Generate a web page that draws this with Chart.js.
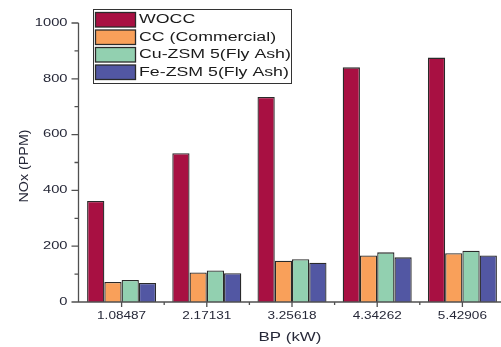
<!DOCTYPE html>
<html>
<head>
<meta charset="utf-8">
<script src="https://cdn.jsdelivr.net/npm/chart.js@4/dist/chart.umd.min.js"></script>
<style>
  html, body { margin: 0; padding: 0; background: #fff; overflow: hidden; }
  #wrap { width: 501px; height: 347px; overflow: hidden; }
  canvas { display: block; }
</style>
</head>
<body>
<div id="wrap"><canvas id="c" width="505" height="347"></canvas></div>
<script>
// Brake power levels (kW)
const categories = ['1.08487', '2.17131', '3.25618', '4.34262', '5.42906'];

// NOx emissions (PPM) per catalyst condition
const wocc = [362, 533, 735, 841, 876];
const ccCommercial = [72, 106, 148, 167, 175];
const cuZsm5 = [79, 113, 153, 178, 184];
const feZsm5 = [68, 103, 141, 160, 167];

const seriesNames = ['WOCC', 'CC (Commercial)', 'Cu-ZSM 5(Fly Ash)', 'Fe-ZSM 5(Fly Ash)'];
const seriesColors = ['#a81042', '#f9a05a', '#92d0b0', '#5257a3'];

const yTicks = [0, 200, 400, 600, 800, 1000];
const yMinorTicks = [100, 300, 500, 700, 900];

const TEXT = '#262838';
const AXIS = '#505050';

function stretchedText(ctx, str, x, y, font, sx, align, color) {
  ctx.save();
  ctx.font = font;
  ctx.fillStyle = color;
  ctx.textAlign = align;
  ctx.textBaseline = 'middle';
  ctx.translate(x, y);
  ctx.scale(sx, 1);
  ctx.fillText(str, 0, 0);
  ctx.restore();
}

// Axis lines, tick marks, tick labels and titles
const axesPlugin = {
  id: 'axesPlugin',
  afterDatasetsDraw(chart) {
    const ctx = chart.ctx;
    const xs = chart.scales.x;
    const ys = chart.scales.y;
    const area = chart.chartArea;
    const x0 = area.left - 0.5;
    const yb = ys.getPixelForValue(0);
    const yt = ys.getPixelForValue(1000);

    ctx.save();
    ctx.strokeStyle = AXIS;
    ctx.lineWidth = 1.3;
    ctx.beginPath();
    ctx.moveTo(x0, yt);
    ctx.lineTo(x0, yb);
    ctx.lineTo(area.right, yb);
    // y major ticks
    yTicks.forEach(v => {
      const p = ys.getPixelForValue(v);
      ctx.moveTo(x0 - 7, p);
      ctx.lineTo(x0, p);
    });
    // y minor ticks
    yMinorTicks.forEach(v => {
      const p = ys.getPixelForValue(v);
      ctx.moveTo(x0 - 4, p);
      ctx.lineTo(x0, p);
    });
    // x major ticks at category centres, minor at boundaries
    categories.forEach((c, i) => {
      const p = xs.getPixelForValue(i);
      ctx.moveTo(p, yb);
      ctx.lineTo(p, yb + 5);
      const b = xs.getPixelForValue(i + 0.5);
      ctx.moveTo(b, yb);
      ctx.lineTo(b, yb + 3);
    });
    ctx.stroke();
    ctx.restore();

    yTicks.forEach(v => {
      stretchedText(ctx, String(v), x0 - 11, ys.getPixelForValue(v), '10.5px "Liberation Sans", Arial, sans-serif', 1.4, 'right', TEXT);
    });
    categories.forEach((c, i) => {
      stretchedText(ctx, c, xs.getPixelForValue(i), yb + 13.5, '11.5px "Liberation Sans", Arial, sans-serif', 1.18, 'center', TEXT);
    });

    // axis titles
    stretchedText(ctx, 'BP (kW)', 290, 337, '13.5px "Liberation Sans", Arial, sans-serif', 1.25, 'center', TEXT);
    ctx.save();
    ctx.translate(24, 166);
    ctx.rotate(-Math.PI / 2);
    ctx.font = '13.5px "Liberation Sans", Arial, sans-serif';
    ctx.fillStyle = TEXT;
    ctx.textAlign = 'center';
    ctx.textBaseline = 'middle';
    ctx.scale(1.06, 1);
    ctx.fillText('NOx (PPM)', 0, 0);
    ctx.restore();
  }
};

// Boxed legend in the upper left of the plot
const legendPlugin = {
  id: 'boxLegend',
  afterDraw(chart) {
    const ctx = chart.ctx;
    ctx.save();
    ctx.fillStyle = '#ffffff';
    ctx.strokeStyle = '#333333';
    ctx.lineWidth = 1;
    ctx.fillRect(93.5, 9.5, 198, 74);
    ctx.strokeRect(93.5, 9.5, 198, 74);
    chart.data.datasets.forEach((ds, i) => {
      const top = 12.5 + i * 17.5;
      ctx.fillStyle = ds.backgroundColor;
      ctx.fillRect(95.5, top, 40, 14.5);
      ctx.strokeStyle = '#2a2a2a';
      ctx.lineWidth = 1.3;
      ctx.strokeRect(95.5, top, 40, 14.5);
      stretchedText(ctx, ds.label, 139, top + 7.5, '12.5px "Liberation Sans", Arial, sans-serif', 1.42, 'left', '#1a1a1a');
    });
    ctx.restore();
  }
};

const seriesValues = [wocc, ccCommercial, cuZsm5, feZsm5];

new Chart(document.getElementById('c'), {
  type: 'bar',
  data: {
    labels: categories,
    datasets: seriesValues.map((vals, i) => ({
      label: seriesNames[i],
      data: vals,
      backgroundColor: seriesColors[i],
      borderColor: '#2a2a2a',
      borderWidth: 1.3,
      categoryPercentage: 0.81,
      barPercentage: 1.0
    }))
  },
  options: {
    responsive: false,
    devicePixelRatio: 1,
    animation: false,
    layout: { padding: { left: 79, right: 0, top: 23, bottom: 45 } },
    plugins: {
      legend: { display: false },
      tooltip: { enabled: false }
    },
    scales: {
      x: { display: false, offset: true },
      y: { display: false, min: 0, max: 1000 }
    }
  },
  plugins: [axesPlugin, legendPlugin]
});
</script>
</body>
</html>
